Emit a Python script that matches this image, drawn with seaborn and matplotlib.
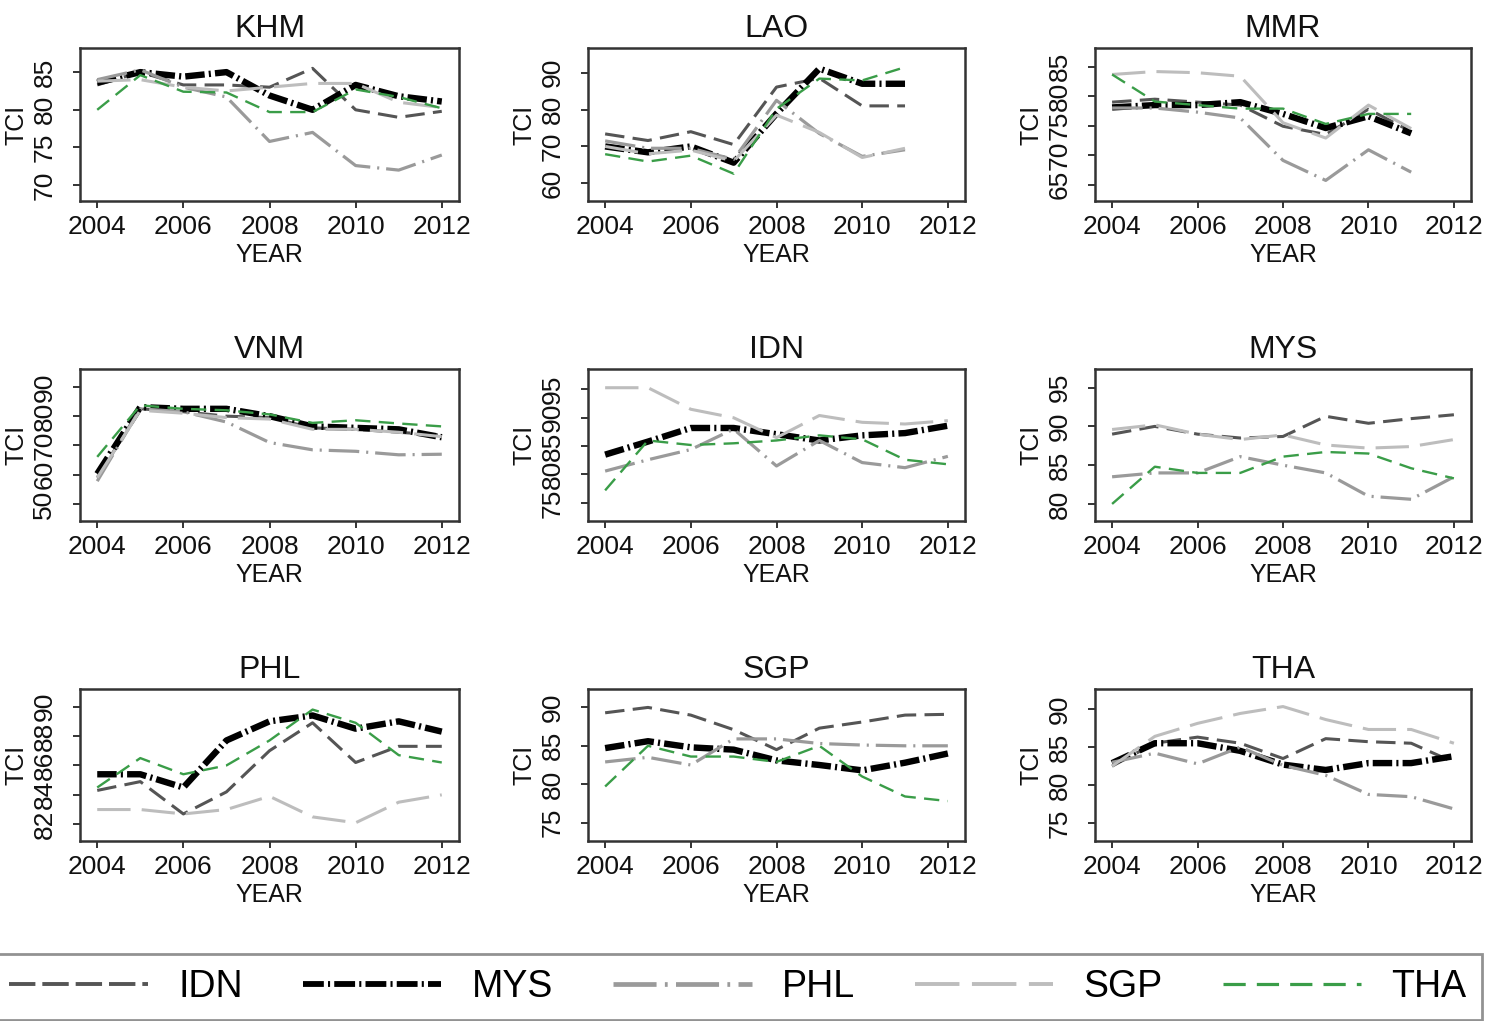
import matplotlib
matplotlib.use("Agg")
import matplotlib.pyplot as plt
from matplotlib.lines import Line2D
import pandas as pd
import seaborn as sns

# ---------------------------------------------------------------- data
YEARS = [2004, 2005, 2006, 2007, 2008, 2009, 2010, 2011, 2012]
PARTNERS = ["IDN", "MYS", "PHL", "SGP", "THA"]
PANELS = ["KHM", "LAO", "MMR", "VNM", "IDN", "MYS", "PHL", "SGP", "THA"]

KHM = {
    "IDN": [83.3, 85.0, 83.3, 83.3, 83.0, 85.5, 80.0, 79.0, 79.8],
    "MYS": [83.6, 85.0, 84.4, 85.0, 81.9, 80.0, 83.3, 81.8, 81.1],
    "PHL": [84.0, 85.3, 83.0, 81.7, 75.8, 77.0, 72.6, 72.0, 74.0],
    "SGP": [83.8, 84.0, 83.0, 82.5, 83.0, 83.5, 83.5, 81.0, 80.3],
    "THA": [80.0, 84.6, 82.4, 82.3, 79.7, 79.7, 82.7, 81.7, 80.2],
}
LAO = {
    "IDN": [73.4, 71.6, 74.0, 70.5, 86.1, 88.5, 81.0, 81.0],
    "MYS": [70.0, 68.4, 70.0, 65.6, 78.9, 91.1, 87.0, 87.0],
    "PHL": [71.5, 69.5, 69.5, 66.5, 82.5, 73.5, 67.3, 69.1],
    "SGP": [70.0, 68.0, 69.0, 66.0, 78.5, 73.8, 67.0, 69.5],
    "THA": [67.9, 65.9, 67.5, 62.6, 80.2, 88.4, 87.9, 91.5],
}
MMR = {
    "IDN": [79.0, 79.5, 79.0, 78.5, 74.9, 73.5, 77.8, 74.0],
    "MYS": [78.1, 78.5, 78.5, 79.0, 77.0, 74.6, 76.6, 73.7],
    "PHL": [78.0, 78.0, 77.3, 76.3, 69.1, 65.7, 70.9, 67.1],
    "SGP": [83.7, 84.2, 84.0, 83.4, 75.5, 72.9, 78.5, 74.5],
    "THA": [83.7, 79.1, 78.5, 77.9, 77.9, 75.3, 77.0, 77.0],
}
VNM = {
    "IDN": [59.0, 82.5, 81.5, 80.0, 79.5, 76.0, 75.5, 74.5, 73.5],
    "MYS": [60.3, 83.1, 82.5, 82.5, 80.0, 76.5, 76.0, 75.5, 72.8],
    "PHL": [57.8, 82.5, 81.5, 78.0, 71.0, 68.5, 68.0, 66.8, 67.0],
    "SGP": [59.0, 82.0, 81.0, 79.5, 79.0, 75.5, 75.5, 74.5, 73.0],
    "THA": [66.1, 83.7, 82.5, 82.0, 80.6, 77.7, 78.6, 77.5, 76.5],
}
IDN = {
    "MYS": [83.5, 85.8, 88.2, 88.2, 87.1, 86.0, 86.9, 87.3, 88.6],
    "PHL": [80.6, 82.6, 84.4, 88.0, 81.5, 86.0, 82.1, 81.2, 83.2],
    "SGP": [95.3, 95.3, 91.5, 90.0, 86.5, 90.4, 89.2, 88.9, 89.5],
    "THA": [77.2, 86.0, 85.2, 85.5, 86.0, 86.9, 86.2, 82.6, 81.8],
}
MYS = {
    "IDN": [89.0, 90.0, 89.0, 88.5, 88.7, 91.3, 90.4, 91.0, 91.5],
    "PHL": [83.5, 84.0, 84.0, 86.1, 85.0, 84.0, 81.0, 80.6, 83.5],
    "SGP": [89.6, 90.2, 89.0, 88.3, 88.9, 87.6, 87.2, 87.4, 88.3],
    "THA": [80.0, 84.8, 84.0, 84.0, 86.1, 86.7, 86.5, 84.6, 83.3],
}
PHL = {
    "IDN": [84.3, 84.9, 82.7, 84.2, 87.0, 88.9, 86.2, 87.3, 87.3],
    "MYS": [85.4, 85.4, 84.5, 87.7, 89.0, 89.4, 88.5, 89.0, 88.3],
    "SGP": [83.0, 83.0, 82.7, 83.0, 83.9, 82.5, 82.1, 83.5, 84.0],
    "THA": [84.5, 86.5, 85.4, 86.0, 87.7, 89.8, 88.9, 86.7, 86.2],
}
SGP = {
    "IDN": [89.3, 90.0, 89.0, 87.1, 84.5, 87.3, 88.1, 89.0, 89.1],
    "MYS": [84.7, 85.6, 84.8, 84.5, 83.1, 82.5, 81.8, 82.8, 84.0],
    "PHL": [82.9, 83.5, 82.5, 85.9, 85.9, 85.3, 85.1, 85.0, 85.0],
    "THA": [79.7, 85.0, 83.6, 83.6, 82.9, 85.0, 81.0, 78.4, 77.8],
}
THA = {
    "IDN": [82.5, 85.5, 86.3, 85.5, 83.5, 86.1, 85.7, 85.5, 83.0],
    "MYS": [82.9, 85.5, 85.5, 84.5, 82.7, 82.0, 82.9, 82.9, 83.8],
    "PHL": [83.0, 84.2, 82.8, 85.0, 82.6, 81.3, 78.8, 78.5, 76.9],
    "SGP": [82.5, 86.4, 88.1, 89.4, 90.3, 88.6, 87.3, 87.3, 85.5],
}
SERIES = {"KHM": KHM, "LAO": LAO, "MMR": MMR, "VNM": VNM, "IDN": IDN,
          "MYS": MYS, "PHL": PHL, "SGP": SGP, "THA": THA}

# axis ranges and ticks of each panel
YLIMS = {"KHM": (67.9, 88.2), "LAO": (55.2, 96.7), "MMR": (62.2, 88.2),
         "VNM": (44.2, 96.1), "IDN": (71.8, 98.6), "MYS": (77.8, 97.4),
         "PHL": (80.86, 91.2), "SGP": (72.6, 92.4), "THA": (72.7, 92.6)}
YTICKS = {"KHM": [70, 75, 80, 85], "LAO": [60, 70, 80, 90],
          "MMR": [65, 70, 75, 80, 85], "VNM": [50, 60, 70, 80, 90],
          "IDN": [75, 80, 85, 90, 95], "MYS": [80, 85, 90, 95],
          "PHL": [82, 84, 86, 88, 90], "SGP": [75, 80, 85, 90],
          "THA": [75, 80, 85, 90]}
XTICKS = [2004, 2006, 2008, 2010, 2012]

# ---------------------------------------------------------------- style
COLORS = {"IDN": "#555555", "MYS": "#000000", "PHL": "#9a9a9a",
          "SGP": "#bdbdbd", "THA": "#3a9d48"}
WIDTHS = {"IDN": 2.2, "MYS": 4.6, "PHL": 2.3, "SGP": 2.2, "THA": 1.7}
DASHES = {"IDN": (14, 6), "MYS": (14, 3, 1.5, 3), "PHL": (22, 5, 1.5, 5),
          "SGP": (24, 8), "THA": (11, 6)}
LEG_WIDTHS = {"IDN": 2.8, "MYS": 4.2, "PHL": 3.4, "SGP": 2.8, "THA": 2.3}
LEG_DASHES = {"IDN": (19, 5), "MYS": (15, 3, 1.5, 3), "PHL": (31, 6, 2, 6),
              "SGP": (32, 9), "THA": (16, 8)}

sns.set_theme(style="ticks")
plt.rcParams["font.family"] = ["Liberation Sans", "DejaVu Sans"]
plt.rcParams["lines.scale_dashes"] = False
plt.rcParams["axes.edgecolor"] = "#333333"
plt.rcParams["axes.linewidth"] = 1.8
plt.rcParams["text.color"] = "#000000"

W, H = 1489, 1021
fig = plt.figure(figsize=(W / 100, H / 100), dpi=100)

COLS = [(80, 459), (588, 965), (1095, 1471)]
ROWS = [(48, 201), (369, 521), (689, 841)]

for i, name in enumerate(PANELS):
    (l, r), (t, b) = COLS[i % 3], ROWS[i // 3]
    ax = fig.add_axes([l / W, 1 - b / H, (r - l) / W, (b - t) / H])
    rows = []
    for p in PARTNERS:
        if p in SERIES[name]:
            for y, v in zip(YEARS, SERIES[name][p]):
                rows.append({"YEAR": y, "TCI": v, "partner": p})
    df = pd.DataFrame(rows)
    present = [p for p in PARTNERS if p in SERIES[name]]
    sns.lineplot(data=df, x="YEAR", y="TCI", hue="partner", style="partner",
                 size="partner", hue_order=present, style_order=present,
                 size_order=present, palette=COLORS, dashes=DASHES,
                 sizes=WIDTHS, legend=False, ax=ax)
    ax.set_xlim(2003.6, 2012.4)
    ax.set_ylim(*YLIMS[name])
    ax.set_xticks(XTICKS)
    ax.set_yticks(YTICKS[name])
    ax.set_xticklabels([str(x) for x in XTICKS])
    ax.set_yticklabels([str(v) for v in YTICKS[name]], rotation=90,
                       va="center")
    ax.tick_params(axis="both", length=5, width=1.4, color="#333333",
                   labelsize=19, labelcolor="#111111")
    ax.tick_params(axis="x", pad=5)
    ax.tick_params(axis="y", pad=12)
    ax.set_title(name, fontsize=23, pad=8, color="#111111")
    ax.set_xlabel("YEAR", fontsize=18, labelpad=3, color="#111111")
    ax.set_ylabel("TCI", fontsize=18, labelpad=3, color="#111111")
    for s in ax.spines.values():
        s.set_visible(True)

handles = [Line2D([], [], color=COLORS[p], lw=LEG_WIDTHS[p],
                  dashes=LEG_DASHES[p]) for p in PARTNERS]
leg = fig.legend(handles, PARTNERS, loc="center",
                 bbox_to_anchor=(738 / W, 1 - 987 / H), ncol=5,
                 prop={"size": 27},
                 handlelength=3.7, handletextpad=0.8, columnspacing=1.6,
                 frameon=True, fancybox=False, borderpad=0.4,
                 edgecolor="#777777", labelcolor="#000000")
leg.get_frame().set_linewidth(2.0)

fig.savefig("out.png", dpi=100)
